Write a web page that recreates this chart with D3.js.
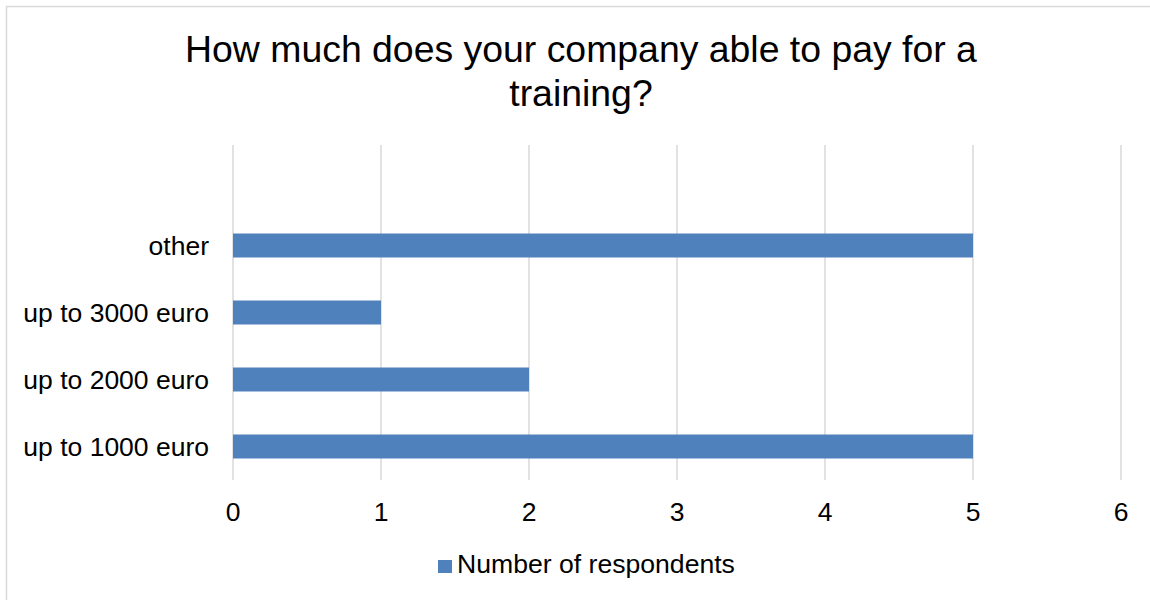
<!DOCTYPE html>
<html>
<head>
<meta charset="utf-8">
<script src="https://cdn.jsdelivr.net/npm/d3@7/dist/d3.min.js"></script>
<style>
  html, body { margin: 0; padding: 0; background: #ffffff; }
  svg { display: block; font-family: "Liberation Sans", Arial, sans-serif; }
</style>
</head>
<body>
<svg id="chart" width="1150" height="600"></svg>
<script>
// Survey answers, listed bottom to top; the last slot is an empty row
const categories = ["up to 1000 euro", "up to 2000 euro", "up to 3000 euro", "other", ""];
const respondents = [5, 2, 1, 5, null];
const xTicks = [0, 1, 2, 3, 4, 5, 6];
const titleLines = ["How much does your company able to pay for a", "training?"];
const seriesName = "Number of respondents";

const svg = d3.select("#chart");
const barColor = "#4f81bd";
const gridColor = "#d9d9d9";

// outer frame
svg.append("rect")
  .attr("x", 6.5).attr("y", 6.5)
  .attr("width", 1160).attr("height", 610)
  .attr("fill", "#fff").attr("stroke", gridColor).attr("stroke-width", 1.5);

// title
svg.append("text")
  .attr("text-anchor", "middle")
  .attr("font-size", 37.4)
  .attr("fill", "#000")
  .selectAll("tspan")
  .data(titleLines)
  .join("tspan")
  .attr("x", 581)
  .attr("y", (d, i) => 62 + i * 44)
  .text(d => d);

const x = d3.scaleLinear().domain([0, 6]).range([233, 1121]);
const y = d3.scaleBand()
  .domain(categories)
  .range([480, 145])
  .paddingInner(0.642)
  .paddingOuter(0.321);

// vertical gridlines
svg.append("g")
  .selectAll("line")
  .data(xTicks)
  .join("line")
  .attr("x1", d => x(d)).attr("x2", d => x(d))
  .attr("y1", 145).attr("y2", 480)
  .attr("stroke", gridColor)
  .attr("stroke-width", 1.5);

// x tick labels
svg.append("g")
  .selectAll("text")
  .data(xTicks)
  .join("text")
  .attr("x", d => x(d))
  .attr("y", 521)
  .attr("text-anchor", "middle")
  .attr("font-size", 26.5)
  .attr("fill", "#000")
  .text(d => d);

// category labels
svg.append("g")
  .selectAll("text")
  .data(categories.filter(c => c !== ""))
  .join("text")
  .attr("x", 209)
  .attr("y", d => y(d) + y.bandwidth() / 2)
  .attr("dy", "0.35em")
  .attr("text-anchor", "end")
  .attr("font-size", 26.5)
  .attr("fill", "#000")
  .text(d => d);

// bars
const rows = categories.map((c, i) => ({ c, v: respondents[i] })).filter(d => d.v != null);
svg.append("g")
  .selectAll("rect")
  .data(rows)
  .join("rect")
  .attr("x", x(0))
  .attr("y", d => y(d.c))
  .attr("width", d => x(d.v) - x(0))
  .attr("height", y.bandwidth())
  .attr("fill", barColor);

// legend
const legend = svg.append("g");
legend.append("rect")
  .attr("x", 438).attr("y", 560)
  .attr("width", 14).attr("height", 13)
  .attr("fill", barColor);
legend.append("text")
  .attr("x", 457).attr("y", 573)
  .attr("font-size", 26.6)
  .attr("fill", "#000")
  .text(seriesName);
</script>
</body>
</html>
